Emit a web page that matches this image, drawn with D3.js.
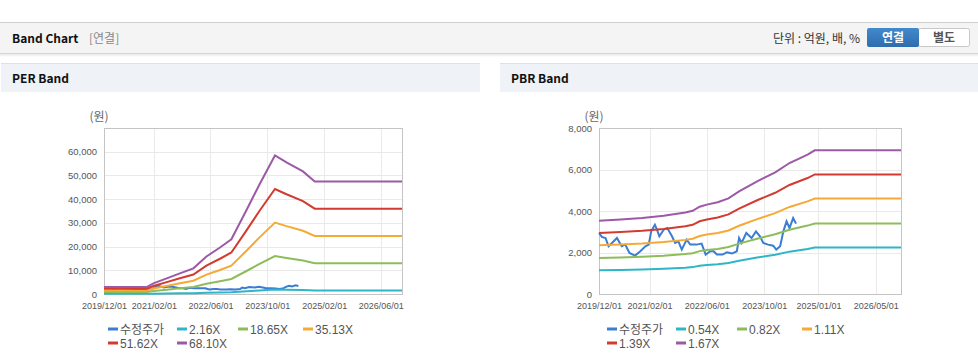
<!DOCTYPE html>
<html>
<head>
<meta charset="utf-8">
<script src="https://cdn.jsdelivr.net/npm/d3@7"></script>
<style>
  html, body { margin: 0; padding: 0; background: #fff; }
  svg { display: block; }
</style>
</head>
<body>
<div id="chart"></div>
<script>
// ---- data ----
const xTicksPer = ['2019/12/01', '2021/02/01', '2022/06/01', '2023/10/01', '2025/02/01', '2026/06/01'];
const xTicksPbr = ['2019/12/01', '2021/02/01', '2022/06/01', '2023/10/01', '2025/01/01', '2026/05/01'];
const xDomain = ['2019/12/01', '2026/12/01'];

// adjusted price (수정주가), shared by both charts
const priceDates = [
  '2019/12/01', '2019/12/25', '2020/01/25', '2020/02/20', '2020/03/20', '2020/05/01', '2020/06/10',
  '2020/07/10', '2020/08/15', '2020/10/01', '2020/11/15', '2020/12/28', '2021/01/25', '2021/02/15',
  '2021/03/18', '2021/04/05', '2021/04/25', '2021/06/01', '2021/07/01', '2021/08/10', '2021/09/05',
  '2021/10/03', '2021/11/01', '2021/12/12', '2022/01/12', '2022/03/06', '2022/04/18', '2022/05/22',
  '2022/07/01', '2022/07/28', '2022/08/25', '2022/10/12', '2022/11/18', '2023/01/01', '2023/02/10',
  '2023/03/01', '2023/03/22', '2023/05/01', '2023/06/15', '2023/07/22', '2023/08/25', '2023/09/22',
  '2023/11/01', '2023/12/15', '2024/01/10', '2024/02/12', '2024/03/10', '2024/04/06', '2024/05/01',
  '2024/06/01', '2024/06/25'
];
const priceValues = [
  2940, 2750, 2700, 2300, 2460, 2700, 2300,
  2380, 1975, 1850, 2060, 2300, 2380, 3020,
  3340, 3100, 2780, 3100, 3180, 2780, 2460,
  2540, 2140, 2620, 2380, 2380, 2430, 1900,
  2060, 2060, 1900, 1900, 2010, 1950, 2060,
  2700, 2460, 2940, 2700, 3020, 2780, 2460,
  2380, 2330, 2140, 2300, 3020, 3500, 3180,
  3660, 3390
];

// EPS for the PER band
const epsDates = [
  '2019/12/01', '2020/12/01', '2021/01/28', '2021/05/22', '2021/09/12', '2022/01/06', '2022/04/28',
  '2022/08/22', '2022/11/28', '2023/04/07', '2023/07/28', '2023/12/07', '2024/03/15', '2024/08/03',
  '2024/11/12', '2026/12/01'
];
const epsValues = [43, 43, 66, 97, 128, 159, 232, 288, 339, 520, 680, 858, 815, 759, 697, 697];
const perMultiples = [2.16, 18.65, 35.13, 51.62, 68.10];

// BPS for the PBR band
const bpsDates = [
  '2019/12/01', '2020/06/01', '2020/12/01', '2021/06/01', '2021/12/01', '2022/02/01', '2022/04/01',
  '2022/06/01', '2022/09/01', '2022/12/01', '2023/03/01', '2023/08/01', '2024/01/01', '2024/05/01',
  '2024/10/01', '2024/12/01', '2026/12/01'
];
const bpsValues = [2115, 2150, 2190, 2255, 2350, 2400, 2520, 2580, 2650, 2760, 2962, 3250, 3510, 3780, 4020, 4145, 4145];
const pbrMultiples = [0.54, 0.82, 1.11, 1.39, 1.67];

const priceLabel = '수정주가';
const bandColors = ['#2eb6c8', '#8dbd5b', '#f6a935', '#d23b31', '#9c5aa6'];
const priceColor = '#3a7dd3';

// ---- layout ----
const W = 978, H = 362;
const parse = d3.timeParse('%Y/%m/%d');
const svg = d3.select('#chart').append('svg').attr('width', W).attr('height', H);
const KR = '"Noto Sans CJK KR", "Noto Sans", sans-serif';
const LAT = '"Liberation Sans", Arial, sans-serif';

// top header bar
const defs = svg.append('defs');
const sh = defs.append('linearGradient').attr('id', 'shadow').attr('x1', 0).attr('x2', 0).attr('y1', 0).attr('y2', 1);
sh.append('stop').attr('offset', 0).attr('stop-color', '#000').attr('stop-opacity', 0.12);
sh.append('stop').attr('offset', 1).attr('stop-color', '#000').attr('stop-opacity', 0);
const btn = defs.append('linearGradient').attr('id', 'btn').attr('x1', 0).attr('x2', 0).attr('y1', 0).attr('y2', 1);
btn.append('stop').attr('offset', 0).attr('stop-color', '#4289cc');
btn.append('stop').attr('offset', 1).attr('stop-color', '#2f6cad');

svg.append('rect').attr('x', 0).attr('y', 22).attr('width', W).attr('height', 31).attr('fill', '#f4f4f4');
svg.append('rect').attr('x', 0).attr('y', 53).attr('width', W).attr('height', 4).attr('fill', 'url(#shadow)');
svg.append('line').attr('x1', 0).attr('x2', W).attr('y1', 22.5).attr('y2', 22.5).attr('stroke', '#cfcfcf');
svg.append('line').attr('x1', 0).attr('x2', W).attr('y1', 53.5).attr('y2', 53.5).attr('stroke', '#d6d6d6');
svg.append('text').attr('x', 12).attr('y', 43).attr('font-family', KR).attr('font-weight', 700)
  .attr('font-size', 12).attr('fill', '#111').text('Band Chart');
svg.append('text').attr('x', 89).attr('y', 43).attr('font-family', KR)
  .attr('font-size', 12).attr('fill', '#888').text('[연결]');
svg.append('text').attr('x', 860).attr('y', 43).attr('text-anchor', 'end').attr('font-family', KR)
  .attr('font-size', 12).attr('fill', '#333').text('단위 : 억원, 배, %');
svg.append('rect').attr('x', 918.5).attr('y', 28.5).attr('width', 51).attr('height', 18).attr('rx', 2)
  .attr('fill', '#fff').attr('stroke', '#c8c8c8');
svg.append('rect').attr('x', 867).attr('y', 28).attr('width', 52).attr('height', 19).attr('rx', 2)
  .attr('fill', 'url(#btn)');
svg.append('text').attr('x', 893).attr('y', 42).attr('text-anchor', 'middle').attr('font-family', KR)
  .attr('font-weight', 700).attr('font-size', 12).attr('fill', '#fff').text('연결');
svg.append('text').attr('x', 944).attr('y', 42).attr('text-anchor', 'middle').attr('font-family', KR)
  .attr('font-weight', 700).attr('font-size', 12).attr('fill', '#555').text('별도');

const panels = [
  {
    x0: 1, x1: 480, title: 'PER Band', left: 104, right: 402,
    yMax: 70000, yStep: 10000, yLabelMax: 60000, xTicks: xTicksPer,
    baseDates: epsDates, baseValues: epsValues, multiples: perMultiples
  },
  {
    x0: 500, x1: 978, title: 'PBR Band', left: 599, right: 901,
    yMax: 8000, yStep: 2000, yLabelMax: 8000, xTicks: xTicksPbr,
    baseDates: bpsDates, baseValues: bpsValues, multiples: pbrMultiples
  }
];

const plotTop = 128, plotBottom = 294;

panels.forEach(p => {
  // panel header
  svg.append('rect').attr('x', p.x0).attr('y', 63).attr('width', p.x1 - p.x0).attr('height', 29).attr('fill', '#eff2f7');
  svg.append('line').attr('x1', p.x0).attr('x2', p.x1).attr('y1', 63.5).attr('y2', 63.5).attr('stroke', '#dde1e7');
  svg.append('text').attr('x', p.x0 + 11).attr('y', 83).attr('font-family', KR).attr('font-weight', 700)
    .attr('font-size', 12).attr('fill', '#111').text(p.title);

  const x = d3.scaleTime().domain(xDomain.map(parse)).range([p.left, p.right]);
  const y = d3.scaleLinear().domain([0, p.yMax]).range([plotBottom, plotTop]);
  const g = svg.append('g');

  const yTicks = d3.range(0, p.yMax + 1, p.yStep);
  const xTickDates = p.xTicks.map(parse);

  // grid
  g.append('g').selectAll('line').data(yTicks).join('line')
    .attr('x1', p.left).attr('x2', p.right)
    .attr('y1', d => Math.round(y(d)) + 0.5).attr('y2', d => Math.round(y(d)) + 0.5)
    .attr('stroke', '#e9e9e9');
  g.append('g').selectAll('line').data(xTickDates).join('line')
    .attr('y1', plotTop).attr('y2', plotBottom)
    .attr('x1', d => Math.round(x(d)) + 0.5).attr('x2', d => Math.round(x(d)) + 0.5)
    .attr('stroke', '#e9e9e9');

  // plot frame
  g.append('rect').attr('x', Math.round(p.left) + 0.5).attr('y', plotTop + 0.5)
    .attr('width', Math.round(p.right - p.left)).attr('height', plotBottom - plotTop)
    .attr('fill', 'none').attr('stroke', '#c4c4c4');

  // axes
  const yAxis = d3.axisLeft(y).tickValues(yTicks.filter(v => v <= p.yLabelMax))
    .tickSize(0).tickPadding(7).tickFormat(d3.format(','));
  const ya = g.append('g').attr('transform', `translate(${p.left},0)`).call(yAxis);
  ya.select('.domain').remove();
  ya.selectAll('text').attr('font-size', 9.5).attr('fill', '#555').attr('font-family', LAT);

  const xAxis = d3.axisBottom(x).tickValues(xTickDates).tickSize(0).tickPadding(9)
    .tickFormat(d3.timeFormat('%Y/%m/%d'));
  const xa = g.append('g').attr('transform', `translate(0,${plotBottom})`).call(xAxis);
  xa.select('.domain').remove();
  xa.selectAll('text').attr('font-size', 9).attr('fill', '#555').attr('font-family', LAT);

  // unit label
  g.append('text').attr('x', p.left - 5).attr('y', 121).attr('text-anchor', 'middle')
    .attr('font-family', KR).attr('font-size', 12).attr('fill', '#666').text('(원)');

  const line = d3.line().x(d => x(d[0])).y(d => y(d[1]));

  // price (drawn below the bands)
  g.append('path')
    .datum(priceDates.map((d, i) => [parse(d), priceValues[i]]))
    .attr('d', line)
    .attr('fill', 'none').attr('stroke', priceColor).attr('stroke-width', 2);

  // bands
  const base = p.baseDates.map((d, i) => ({ date: parse(d), v: p.baseValues[i] }));
  p.multiples.forEach((m, i) => {
    g.append('path')
      .datum(base.map(b => [b.date, b.v * m]))
      .attr('d', line)
      .attr('fill', 'none').attr('stroke', bandColors[i]).attr('stroke-width', 2);
  });

  // legend
  const items = [{ label: priceLabel, color: priceColor }]
    .concat(p.multiples.map((m, i) => ({ label: m.toFixed(2) + 'X', color: bandColors[i] })));
  const colX = [0, 69, 130, 195];
  const lx = p.x0 + 107;
  items.forEach((it, i) => {
    const row = i < 4 ? 0 : 1;
    const col = i < 4 ? i : i - 4;
    const ix = lx + colX[col], iy = 329 + row * 14;
    g.append('line').attr('x1', ix).attr('x2', ix + 10).attr('y1', iy).attr('y2', iy)
      .attr('stroke', it.color).attr('stroke-width', 3);
    g.append('text').attr('x', ix + 12).attr('y', iy + 4.5)
      .attr('font-family', i === 0 ? KR : LAT).attr('font-size', 12).attr('fill', '#555').text(it.label);
  });
});
</script>
</body>
</html>
